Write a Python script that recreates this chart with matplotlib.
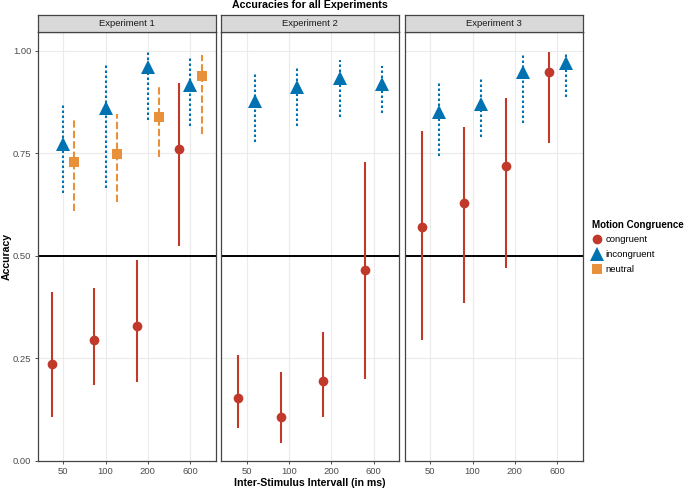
import matplotlib
matplotlib.use("Agg")
import matplotlib.pyplot as plt
from matplotlib.lines import Line2D

plt.rcParams['font.family'] = ['Liberation Sans', 'DejaVu Sans']

isi_labels = ['50', '100', '200', '600']
experiments = ['Experiment 1', 'Experiment 2', 'Experiment 3']
conditions = ['congruent', 'incongruent', 'neutral']

# Experiment 1
e1_cong_mean = [0.237, 0.296, 0.329, 0.761]
e1_cong_lo = [0.108, 0.186, 0.192, 0.524]
e1_cong_hi = [0.411, 0.421, 0.490, 0.922]
e1_inc_mean = [0.772, 0.859, 0.959, 0.916]
e1_inc_lo = [0.654, 0.664, 0.831, 0.816]
e1_inc_hi = [0.872, 0.965, 0.996, 0.981]
e1_neu_mean = [0.729, 0.748, 0.837, 0.938]
e1_neu_lo = [0.609, 0.632, 0.740, 0.796]
e1_neu_hi = [0.835, 0.845, 0.914, 0.989]

# Experiment 2
e2_cong_mean = [0.154, 0.108, 0.195, 0.465]
e2_cong_lo = [0.081, 0.045, 0.106, 0.199]
e2_cong_hi = [0.258, 0.218, 0.314, 0.729]
e2_inc_mean = [0.878, 0.912, 0.932, 0.918]
e2_inc_lo = [0.778, 0.817, 0.837, 0.849]
e2_inc_hi = [0.945, 0.962, 0.977, 0.962]

# Experiment 3
e3_cong_mean = [0.571, 0.629, 0.719, 0.949]
e3_cong_lo = [0.296, 0.384, 0.471, 0.776]
e3_cong_hi = [0.804, 0.815, 0.884, 0.996]
e3_inc_mean = [0.850, 0.870, 0.948, 0.969]
e3_inc_lo = [0.743, 0.790, 0.824, 0.888]
e3_inc_hi = [0.924, 0.930, 0.989, 0.996]

data = [
    {'congruent': (e1_cong_mean, e1_cong_lo, e1_cong_hi),
     'incongruent': (e1_inc_mean, e1_inc_lo, e1_inc_hi),
     'neutral': (e1_neu_mean, e1_neu_lo, e1_neu_hi)},
    {'congruent': (e2_cong_mean, e2_cong_lo, e2_cong_hi),
     'incongruent': (e2_inc_mean, e2_inc_lo, e2_inc_hi)},
    {'congruent': (e3_cong_mean, e3_cong_lo, e3_cong_hi),
     'incongruent': (e3_inc_mean, e3_inc_lo, e3_inc_hi)},
]

colors = {'congruent': '#C0392B', 'incongruent': '#0072B2', 'neutral': '#E8913A'}
markers = {'congruent': 'o', 'incongruent': '^', 'neutral': 's'}
msizes = {'congruent': 7.0, 'incongruent': 9.5, 'neutral': 7.0}
lstyles = {'congruent': '-', 'incongruent': (0, (1.2, 1.2)), 'neutral': (0, (3.5, 1.5))}

W, H = 685, 491
fig = plt.figure(figsize=(W / 100, H / 100), dpi=100)

def ax_rect(x0, x1, y0, y1):
    return [x0 / W, 1 - y1 / H, (x1 - x0) / W, (y1 - y0) / H]

panel_x = [(37.7, 215.7), (221.2, 399.2), (404.7, 582.7)]
ptop, pbot = 31.7, 461.0
stop = 15.0

border = '#444444'
grid = '#EBEBEB'
dodge = 0.8

for i, (x0, x1) in enumerate(panel_x):
    ax = fig.add_axes(ax_rect(x0, x1, ptop, pbot))
    ax.set_xlim(-0.6, 3.6)
    ax.set_ylim(0, 1.046)
    ax.set_xticks(range(len(isi_labels)))
    ax.set_xticklabels(isi_labels)
    ax.set_yticks([0, 0.25, 0.5, 0.75, 1.0])
    ax.tick_params(colors='#4D4D4D', labelsize=6.8, length=2.5, width=0.6, pad=2)
    ax.tick_params(axis='both', color='#333333')
    if i == 0:
        ax.set_yticklabels(['0.00', '0.25', '0.50', '0.75', '1.00'])
    else:
        ax.set_yticklabels([])
        ax.tick_params(axis='y', length=0)
    ax.grid(True, color=grid, linewidth=0.8, zorder=0)
    ax.set_axisbelow(True)
    for s in ax.spines.values():
        s.set_color(border)
        s.set_linewidth(0.9)
    ax.axhline(0.5, color='black', linewidth=1.4, zorder=2)

    conds = list(data[i].keys())
    n = len(conds)
    for j, c in enumerate(conds):
        off = (j - (n - 1) / 2) * dodge / n
        mean, lo, hi = data[i][c]
        for k in range(len(isi_labels)):
            ax.plot([k + off, k + off], [lo[k], hi[k]], color=colors[c],
                    linestyle=lstyles[c], linewidth=1.5, zorder=3,
                    solid_capstyle='butt', dash_capstyle='butt')
        ax.plot([k + off for k in range(len(isi_labels))], mean, linestyle='none',
                marker=markers[c], markersize=msizes[c], color=colors[c],
                markeredgewidth=0, zorder=4)

    # strip
    sax = fig.add_axes(ax_rect(x0, x1, stop, ptop))
    sax.set_facecolor('#D9D9D9')
    sax.set_xticks([])
    sax.set_yticks([])
    for s in sax.spines.values():
        s.set_color(border)
        s.set_linewidth(0.9)
    sax.text(0.5, 0.5, experiments[i], ha='center', va='center',
             fontsize=6.8, color='#1A1A1A', transform=sax.transAxes)

fig.text((37.7 + 582.7) / 2 / W, 1 - 5.5 / H, 'Accuracies for all Experiments',
         ha='center', va='center', fontsize=7.7, fontweight='bold')
fig.text((37.7 + 582.7) / 2 / W, 1 - 483 / H, 'Inter-Stimulus Intervall (in ms)',
         ha='center', va='center', fontsize=7.6, fontweight='bold')
fig.text(6.5 / W, 1 - 256 / H, 'Accuracy', ha='center', va='center',
         rotation=90, fontsize=7.6, fontweight='bold')

handles = [Line2D([], [], linestyle='none', marker=markers[c], color=colors[c],
                  markersize=msizes[c], markeredgewidth=0) for c in conditions]
leg = fig.legend(handles, conditions, title='Motion Congruence',
                 loc='upper left', bbox_to_anchor=(592 / W, 1 - 219.5 / H),
                 frameon=False, fontsize=6.8, title_fontsize=7.0,
                 handlelength=1.0, handletextpad=0.45, labelspacing=0.62,
                 borderpad=0.0, borderaxespad=0.0)
leg.get_title().set_fontweight('bold')
leg._legend_box.align = 'left'

fig.savefig('out.png', dpi=100)
